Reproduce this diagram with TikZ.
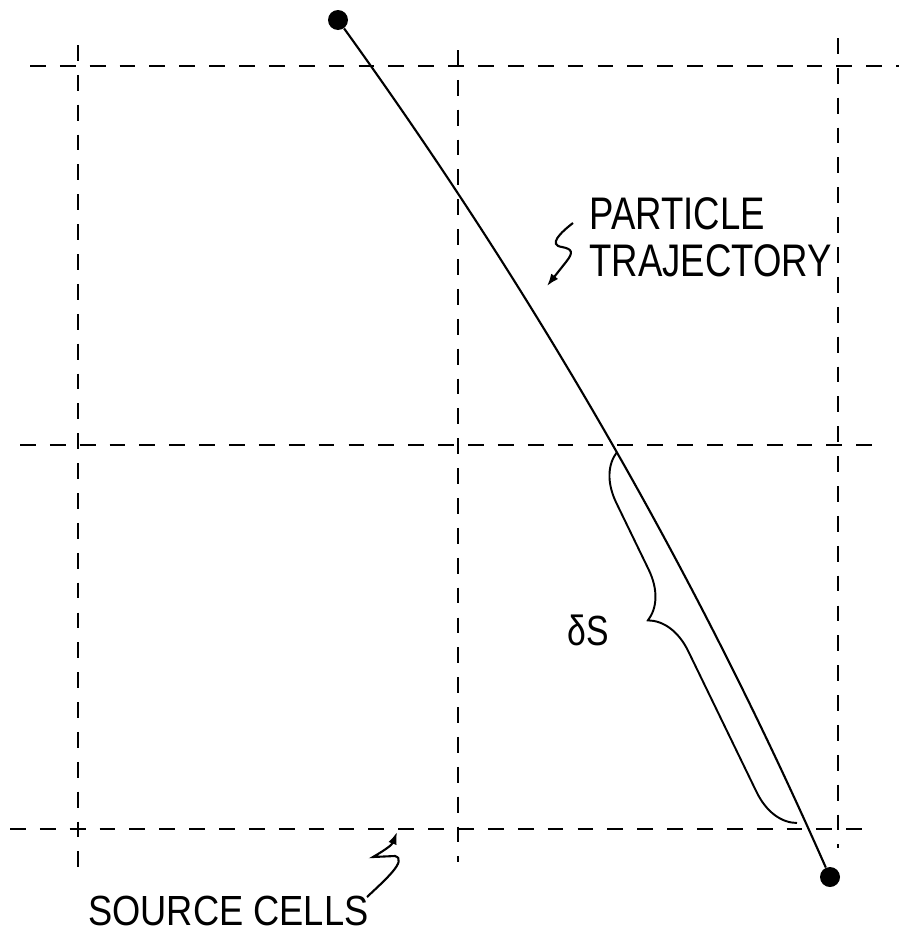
\documentclass[tikz,border=0pt]{standalone}
\usepackage{fontspec}
\newfontfamily\handfont[FakeStretch=0.8]{Liberation Sans}
\newfontfamily\handwide[FakeStretch=0.86]{Liberation Sans}
\usetikzlibrary{arrows.meta,decorations.pathreplacing}
\begin{document}
\begin{tikzpicture}[x=0.02cm, y=-0.02cm,
    cell/.style={dash pattern=on 9pt off 8pt, line width=1.4pt},
    traj/.style={line width=1.2pt},
    dot/.style={circle, fill, inner sep=0pt, minimum size=0.4cm},
    lbl/.style={font=\handfont\fontsize{26}{27}\selectfont, inner sep=0pt, align=left},
    leader/.style={line width=1.2pt, -{Latex[length=7pt,width=5pt]}}]
  \useasboundingbox (0,0) rectangle (899,937);
  % source cells
  \draw[cell] (78,45) -- (78,868);
  \draw[cell] (458,50) -- (458,862);
  \draw[cell] (838,38) -- (838,848);
  \draw[cell] (30,66) -- (899,66);
  \draw[cell] (20,445) -- (880,445);
  \draw[cell] (10,829) -- (868,829);
  % trajectory
  \node[dot] (start) at (338,20) {};
  \node[dot] (end) at (830,877) {};
  \draw[traj] (start) .. controls (547,310) and (702,587) .. (end);
  % path length
  \coordinate (bbot) at (797,823);
  \coordinate (btop) at (617,452);
  \draw[line width=1.1pt, decorate, decoration={brace, amplitude=26pt, aspect=0.6}] (bbot) -- (btop);
  \node[lbl, font=\handfont\fontsize{24}{24}\selectfont] (ds) at (588,630) {δS};
  % labels
  \node[lbl, anchor=west] (ptlbl) at (589,237) {PARTICLE\\TRAJECTORY};
  \coordinate (ptfrom) at (573,223);
  \coordinate (ptto) at (547,286);
  \draw[leader] (ptfrom) .. controls (560,233) and (548,245) .. (562,247)
    .. controls (572,249) and (574,252) .. (566,262) -- (ptto);
  \node[lbl, anchor=base west, font=\handwide\fontsize{24}{24}\selectfont] (sclbl) at (88,925) {SOURCE CELLS};
  \coordinate (scfrom) at (367,897);
  \coordinate (scto) at (397,832);
  \draw[leader] (scfrom) .. controls (385,880) and (408,860) .. (395,856)
    -- (373,857) .. controls (385,850) and (392,845) .. (scto);
\end{tikzpicture}
\end{document}
